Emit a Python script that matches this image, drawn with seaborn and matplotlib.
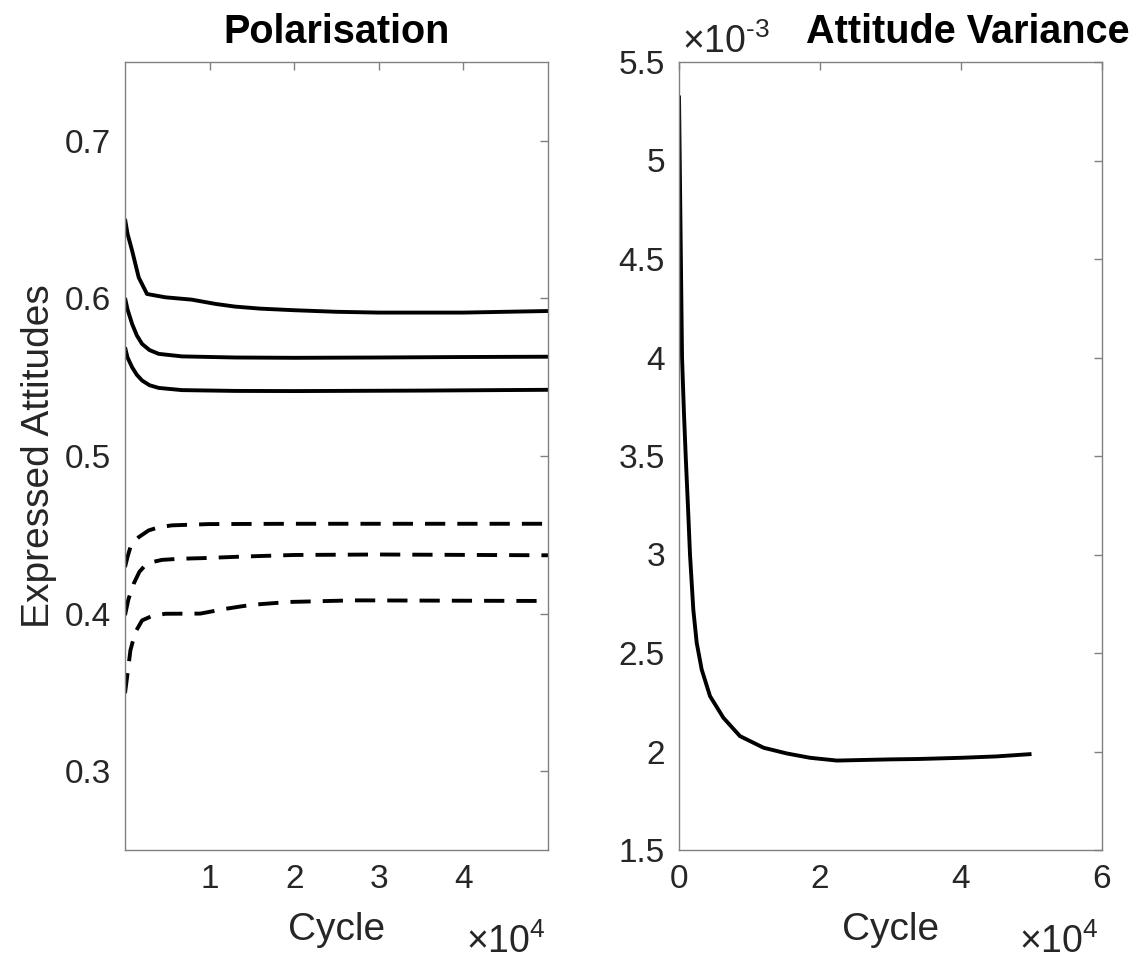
import numpy as np
import pandas as pd
import matplotlib
matplotlib.use("Agg")
import matplotlib.pyplot as plt
from matplotlib.ticker import FuncFormatter
import seaborn as sns

# ---------------- data ----------------
# Polarisation: solid = upper group, dashed = lower group
solid_top_x = [0, 300, 840, 1620, 2600, 4770, 7900, 10700, 13000, 16000, 20000, 25000, 30000, 35000, 40000, 45000, 50000]
solid_top_y = [0.6504, 0.641, 0.6303, 0.6133, 0.6028, 0.6007, 0.5992, 0.5965, 0.5948, 0.5935, 0.5925, 0.5915, 0.591, 0.591, 0.591, 0.5915, 0.592]

solid_mid_x = [0, 300, 840, 1400, 2020, 2900, 3990, 6740, 13000, 20000, 30000, 40000, 50000]
solid_mid_y = [0.6003, 0.593, 0.5838, 0.5765, 0.5711, 0.5672, 0.5648, 0.5632, 0.5625, 0.5623, 0.5625, 0.5628, 0.563]

solid_low_x = [0, 300, 840, 1400, 2020, 2900, 3990, 6740, 13000, 20000, 35000, 50000]
solid_low_y = [0.569, 0.5625, 0.5563, 0.5515, 0.5479, 0.5449, 0.5432, 0.5418, 0.5413, 0.5412, 0.5415, 0.542]

dash_top_x = [0, 300, 640, 1100, 1620, 2800, 4000, 5560, 9900, 20000, 35000, 50000]
dash_top_y = [0.4295, 0.436, 0.4422, 0.4458, 0.4485, 0.4528, 0.4548, 0.456, 0.4568, 0.457, 0.457, 0.457]

dash_mid_x = [0, 400, 1030, 1700, 2400, 3300, 4380, 6500, 9200, 14000, 20000, 30000, 50000]
dash_mid_y = [0.399, 0.409, 0.419, 0.4265, 0.4307, 0.4328, 0.4341, 0.4348, 0.4352, 0.4362, 0.4372, 0.4375, 0.437]

dash_low_x = [0, 300, 640, 1200, 2020, 3200, 4770, 8900, 11850, 14000, 16000, 19500, 27000, 50000]
dash_low_y = [0.3495, 0.362, 0.3767, 0.388, 0.3957, 0.3985, 0.3999, 0.4, 0.403, 0.4048, 0.406, 0.4074, 0.4084, 0.408]

# Attitude variance
var_x = [0, 200, 430, 700, 950, 1300, 1560, 2030, 2510, 3220, 4400, 6300, 8650, 12000, 15300, 18600,
         22400, 26100, 30000, 34000, 40000, 45000, 50000]
var_y = [5.33e-3, 4.70e-3, 4.00e-3, 3.72e-3, 3.50e-3, 3.22e-3, 3.00e-3, 2.72e-3, 2.552e-3, 2.416e-3,
         2.281e-3, 2.171e-3, 2.078e-3, 2.019e-3, 1.99e-3, 1.968e-3, 1.954e-3, 1.957e-3, 1.96e-3,
         1.962e-3, 1.968e-3, 1.975e-3, 1.987e-3]

left_yticks = [0.3, 0.4, 0.5, 0.6, 0.7]
left_xticks = [10000, 20000, 30000, 40000]
right_xticks = [0, 20000, 40000, 60000]
right_yticks = [1.5e-3, 2e-3, 2.5e-3, 3e-3, 3.5e-3, 4e-3, 4.5e-3, 5e-3, 5.5e-3]

# ---------------- style ----------------
sns.set_style("white")
plt.rcParams["font.family"] = ["Liberation Sans", "DejaVu Sans"]
plt.rcParams["mathtext.fontset"] = "custom"
plt.rcParams["mathtext.rm"] = "Liberation Sans"
plt.rcParams["mathtext.it"] = "Liberation Sans"
plt.rcParams["mathtext.bf"] = "Liberation Sans:bold"

TICK_FS = 24
LABEL_FS = 28
TITLE_FS = 28.5
EXP_FS = 27
TXT = "#262626"
AX_COL = "#808080"

fig = plt.figure(figsize=(11.39, 9.60), dpi=100)
axL = fig.add_axes([125 / 1139, 110 / 960, 423 / 1139, 788 / 960])
axR = fig.add_axes([679 / 1139, 110 / 960, 423 / 1139, 788 / 960])

LW = 2.8
for xs, ys in [(solid_top_x, solid_top_y), (solid_mid_x, solid_mid_y), (solid_low_x, solid_low_y)]:
    sns.lineplot(x=xs, y=ys, ax=axL, color="black", lw=LW, linestyle="-", estimator=None, sort=False)
for xs, ys in [(dash_top_x, dash_top_y), (dash_mid_x, dash_mid_y), (dash_low_x, dash_low_y)]:
    sns.lineplot(x=xs, y=ys, ax=axL, color="black", lw=LW, linestyle=(0, (5.2, 3.1)), estimator=None, sort=False)

sns.lineplot(x=var_x, y=var_y, ax=axR, color="black", lw=LW, estimator=None, sort=False)

for ax in (axL, axR):
    for ln in ax.get_lines():
        ln.set_solid_joinstyle("round")
        ln.set_solid_capstyle("butt")

# ---------------- axes formatting ----------------
axL.set_xlim(0, 50000)
axL.set_ylim(0.25, 0.75)
axL.set_xticks(left_xticks)
axL.set_yticks(left_yticks)
axL.xaxis.set_major_formatter(FuncFormatter(lambda v, p: f"{v / 1e4:g}"))
axL.yaxis.set_major_formatter(FuncFormatter(lambda v, p: f"{v:g}"))

axR.set_xlim(0, 60000)
axR.set_ylim(1.5e-3, 5.5e-3)
axR.set_xticks(right_xticks)
axR.set_yticks(right_yticks)
axR.xaxis.set_major_formatter(FuncFormatter(lambda v, p: f"{v / 1e4:g}"))
axR.yaxis.set_major_formatter(FuncFormatter(lambda v, p: f"{round(v / 1e-3, 3):g}"))

for ax in (axL, axR):
    for s in ax.spines.values():
        s.set_visible(True)
        s.set_color(AX_COL)
        s.set_linewidth(1.0)
    ax.tick_params(direction="in", length=6, width=1.0, color=AX_COL,
                   top=True, right=True, labelsize=TICK_FS, labelcolor=TXT, pad=10)
    ax.set_xlabel("Cycle", fontsize=LABEL_FS, color=TXT, labelpad=12)
    ax.grid(False)

axL.set_ylabel("Expressed Attitudes", fontsize=LABEL_FS, color=TXT, labelpad=6)
axR.set_ylabel("")

axL.set_title("Polarisation", fontsize=TITLE_FS, fontweight="bold", color="black", pad=14)
axR.set_title("Attitude Variance", fontsize=TITLE_FS, fontweight="bold", color="black", pad=14, x=0.683)

# exponent labels (MATLAB style)
fig.text(546 / 1139, 7 / 960, r"$\mathrm{×10}^{4}$", fontsize=EXP_FS, color=TXT, ha="right", va="baseline")
fig.text(1099 / 1139, 7 / 960, r"$\mathrm{×10}^{4}$", fontsize=EXP_FS, color=TXT, ha="right", va="baseline")
fig.text(682 / 1139, (960 - 53) / 960, r"$\mathrm{×10}^{\text{-}3}$", fontsize=EXP_FS, color=TXT, ha="left", va="baseline")

fig.savefig("out.png", dpi=100, facecolor="white")
